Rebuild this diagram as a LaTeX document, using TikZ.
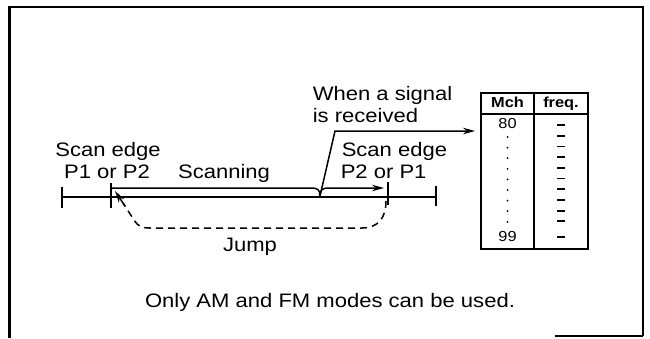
\documentclass[tikz,border=0pt]{standalone}
\usepackage{fontspec}
\setmainfont{Liberation Sans}[FakeStretch=1.13]
\usetikzlibrary{arrows.meta}
\begin{document}
\begin{tikzpicture}[x=1pt,y=-1pt,line width=1.5pt,
  lbl/.style={inner sep=0pt,font=\fontsize{19.5}{21}\selectfont},
  small/.style={inner sep=0pt,font=\fontsize{14.5}{16}\selectfont},
  tick/.style={line width=1.6pt},
  bigtick/.style={line width=2.4pt},
  tip/.style={-{Stealth[length=12pt,width=6.5pt]}},
  jumpline/.style={dash pattern=on 7pt off 5pt,line width=1.5pt},
  dashmark/.style={line width=1.8pt},
  dotmark/.style={fill=black,draw=none}]
\useasboundingbox (0,0) rectangle (650,338);
% frame
\draw[line width=2.2pt] (9.5,338) -- (9.5,7) -- (643,7) -- (643,336);
\draw[line width=1.8pt] (555,336) -- (643,336);
% axis
\coordinate (L) at (62,197);
\coordinate (R) at (436,197);
\draw (L) -- (R);
\draw[tick] (62,187) -- (62,208);
\draw[bigtick] (111,183) -- (111,208);
\draw[bigtick] (388,182) -- (388,205);
\draw[tick] (436,186) -- (436,206);
% scanning brace
\coordinate (cusp) at (320,196);
\coordinate (scanEnd) at (384,188);
\draw (111,188) -- (311,188) .. controls (318,188) and (320,190) .. (cusp);
\draw[tip] (cusp) .. controls (320,190) and (322,188) .. (329,188) -- (scanEnd);
% signal arrow
\coordinate (bend) at (335,131);
\coordinate (tabArrow) at (475,131);
\draw[tip] (cusp) -- (bend) -- (tabArrow);
% jump
\coordinate (jumpTip) at (115,191);
\draw[jumpline] (386,201) .. controls (386,218) and (378,228) .. (362,228) -- (150,228) .. controls (141,228) and (138,226) .. (134,220) -- (123,203);
\draw[tip] (125,206) -- (jumpTip);
% texts
\node[lbl,anchor=base] (se1) at (108,156) {Scan edge};
\node[lbl,anchor=base] (p1) at (107,178) {P1 or P2};
\node[lbl,anchor=base] (scan) at (224,178) {Scanning};
\node[lbl,anchor=base west] (se2) at (341,156) {Scan edge};
\node[lbl,anchor=base west] (p2) at (340,178) {P2 or P1};
\node[lbl,anchor=base west] (w1) at (312,100) {When a signal};
\node[lbl,anchor=base west] (w2) at (312,122) {is received};
\node[lbl,anchor=base] (jump) at (250,251) {Jump};
\node[lbl,anchor=base] (only) at (330,307) {Only AM and FM modes can be used.};
% table
\draw[line width=1.5pt] (481,93) rectangle (588,249);
\draw[line width=1.5pt] (481,114) -- (588,114);
\draw[line width=1.5pt] (534,93) -- (534,249);
\node[small,anchor=base,font=\fontsize{14.5}{16}\selectfont\bfseries] (mch) at (507.5,107) {Mch};
\node[small,anchor=base,font=\fontsize{14.5}{16}\selectfont\bfseries] (freq) at (561,107) {freq.};
\node[small,anchor=base] (c80) at (507.5,128) {80};
\node[small,anchor=base] (c99) at (507.5,241) {99};
\foreach \i in {0,...,8} {\fill[dotmark] (507.5,{137+\i*10.6}) circle (1pt);}
\foreach \i in {0,...,9} {\draw[dashmark] (557,{125+\i*10.7}) -- (565,{125+\i*10.7});}
\draw[dashmark] (557,237) -- (565,237);
\end{tikzpicture}
\end{document}
